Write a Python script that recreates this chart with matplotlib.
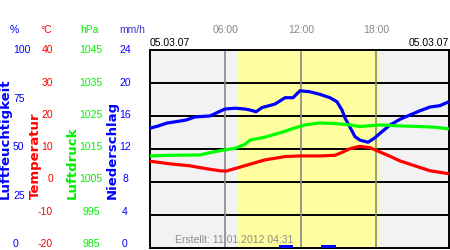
import matplotlib
matplotlib.use('Agg')
import matplotlib.pyplot as plt
import matplotlib.transforms as mtransforms

# time axis in hours after midnight
hum_hours = [0.0, 0.64, 1.35, 2.86, 3.58, 4.77, 5.96, 6.76, 7.55, 7.95, 8.43, 8.9,
             9.94, 10.73, 11.37, 11.92, 12.72, 13.51, 14.31, 14.86, 15.26, 15.5,
             15.9, 16.3, 16.69, 17.33, 17.89, 18.28, 19.08, 19.87, 20.67, 21.46,
             22.26, 23.05, 23.77]
humidity = [60.5, 61.6, 63.1, 64.6, 66.2, 66.7, 70.2, 70.6, 70.2, 69.7, 68.8, 70.9,
            72.7, 75.9, 75.9, 79.4, 78.9, 77.6, 75.9, 73.9, 69.7, 65.7,
            61.0, 56.2, 54.5, 53.4, 55.7, 57.9, 62.1, 65.0, 67.2, 69.3,
            71.2, 71.9, 73.9]

press_hours = [0.0, 1.59, 3.97, 4.77, 5.72, 6.76, 7.55, 7.95, 9.14, 10.33, 11.53,
               12.32, 13.51, 14.71, 15.9, 16.69, 18.28, 19.87, 21.46, 22.66, 23.77]
pressure = [1012.9, 1013.1, 1013.2, 1013.9, 1014.6, 1015.2, 1016.4, 1017.7, 1018.6,
            1019.9, 1021.4, 1022.3, 1022.9, 1022.7, 1022.3, 1021.8, 1022.3, 1022.0,
            1021.8, 1021.6, 1021.1]

temp_hours = [0.0, 1.59, 3.18, 4.37, 5.56, 6.04, 7.15, 7.95, 9.14, 10.73, 11.92,
              13.51, 14.71, 15.34, 15.9, 16.69, 17.49, 18.28, 19.08, 19.87, 21.06,
              22.26, 23.77]
temperature = [6.3, 5.5, 4.9, 4.1, 3.4, 3.3, 4.5, 5.4, 6.7, 7.7, 7.9,
               7.9, 8.1, 9.1, 10.1, 10.8, 10.4, 9.1, 7.8, 6.4, 4.9,
               3.4, 2.5]

rain_hours = [10.8, 14.2]
rain = [0.4, 0.4]

hum_ticks = [100, 75, 50, 25, 0]
temp_ticks = [40, 30, 20, 10, 0, -10, -20]
press_ticks = [1045, 1035, 1025, 1015, 1005, 995, 985]
rain_ticks = [24, 20, 16, 12, 8, 4, 0]
time_ticks = [6, 12, 18]
time_labels = ['06:00', '12:00', '18:00']
day_label = '05.03.07'
sunrise, sunset = 6.97, 18.28

plt.rcParams['font.family'] = ['Liberation Sans', 'DejaVu Sans']
W, H = 450, 250
fig = plt.figure(figsize=(4.5, 2.5), dpi=100)
fig.patch.set_facecolor('white')

ax = fig.add_axes([150 / W, 2 / H, 299 / W, 198 / H])
ax.set_facecolor('#f2f2f2')
ax.set_xlim(0, 23.77)
ax.set_ylim(0, 24)
ax.axvspan(sunrise, sunset, color='#ffffa0', lw=0, zorder=0)
for v in rain_ticks[1:-1]:
    ax.axhline(v, color='black', lw=1.4, zorder=1)
for t in time_ticks:
    ax.axvline(t, color='#888888', lw=1.2, zorder=1)
ax.bar(rain_hours, rain, width=1.15, color='#0000ff', zorder=3)
ax.set_xticks([])
ax.set_yticks([])
for s in ax.spines.values():
    s.set_color('black')
    s.set_linewidth(1.4)

ax.text(25 / 299, 8 / 198, 'Erstellt: 11.01.2012 04:31', transform=ax.transAxes,
        fontsize=7.5, color='#8c8c8c', ha='left', va='center', zorder=2)

ax_h = ax.twinx()
ax_h.set_ylim(0, 100)
ax_h.axis('off')
ax_h.plot(hum_hours, humidity, color='#0000ff', lw=2.3, solid_capstyle='butt')

ax_p = ax.twinx()
ax_p.set_ylim(985, 1045)
ax_p.axis('off')
ax_p.plot(press_hours, pressure, color='#00ff00', lw=2.3, solid_capstyle='butt')

ax_t = ax.twinx()
ax_t.set_ylim(-20, 40)
ax_t.axis('off')
ax_t.plot(temp_hours, temperature, color='#ff0000', lw=2.3, solid_capstyle='butt')


def label_y(frac):
    # scale labels run from y=50 px (top) to y=244 px (bottom)
    return 1 - (50.3 + (1 - frac) * (244 - 50.3)) / H


for v in hum_ticks:
    fig.text(13 / W, label_y(v / 100), str(v), color='#0000ff', fontsize=7.5,
             ha='left', va='center')
for v in temp_ticks:
    fig.text(53 / W, label_y((v + 20) / 60), str(v), color='#ff0000',
             fontsize=7.5, ha='right', va='center')
for v in press_ticks:
    fig.text(91 / W, label_y((v - 985) / 60), str(v), color='#00ee00',
             fontsize=7.5, ha='center', va='center')
for v in rain_ticks:
    fig.text(125 / W, label_y(v / 24), str(v), color='#0000ff',
             fontsize=7.5, ha='center', va='center')

units = [('%', 14, '#0000ff'), ('°C', 46.5, '#ff0000'),
         ('hPa', 89.5, '#00ee00'), ('mm/h', 132.5, '#3333cc')]
for txt, x, c in units:
    fig.text(x / W, 1 - 30 / H, txt, color=c, fontsize=7.5, ha='center', va='center')

names = [('Luftfeuchtigkeit', 5.5, '#0000ff'), ('Temperatur', 35, '#ff0000'),
         ('Luftdruck', 72, '#00ee00'), ('Niederschlag', 112, '#0000ff')]
for txt, x, c in names:
    fig.text(x / W, 1 - 199 / H, txt, color=c, fontsize=9.5, fontweight='bold',
             family='DejaVu Sans', rotation=90, ha='center', va='bottom')

# time labels above plot
trx = mtransforms.blended_transform_factory(ax.transData, fig.transFigure)
for t, lab in zip(time_ticks, time_labels):
    fig.text(t, 1 - 30 / H, lab, transform=trx, color='#888888', fontsize=7.5,
             ha='center', va='center')
fig.text(150 / W, 1 - 43 / H, day_label, color='black', fontsize=7.5,
         ha='left', va='center')
fig.text(449 / W, 1 - 43 / H, day_label, color='black', fontsize=7.5,
         ha='right', va='center')

fig.savefig('out.png', dpi=100)
